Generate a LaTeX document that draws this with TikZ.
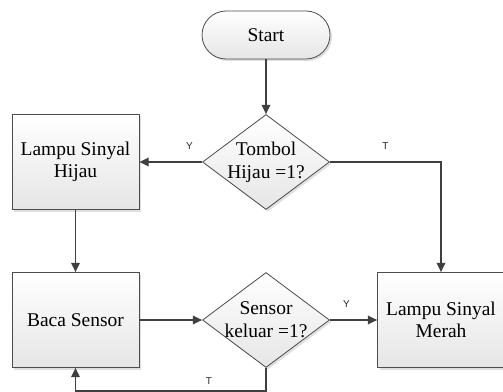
\documentclass[tikz,border=0pt]{standalone}
\usepackage{fontspec}
\setmainfont{Liberation Serif}
\newfontfamily\lblfont{Liberation Sans}
\usetikzlibrary{arrows.meta,shapes.geometric,shadows}

\tikzset{
  base/.style={draw=black!70, line width=0.6pt, top color=white, bottom color=black!10,
    drop shadow={shadow xshift=1.5pt, shadow yshift=-1.5pt, opacity=0.25},
    inner sep=0pt},
  box/.style={base, rectangle, minimum width=95.25pt, minimum height=71.25pt,
    font=\fontsize{14.6}{16.5}\selectfont, align=center},
  terminal/.style={base, rectangle, rounded corners=18pt, minimum width=96pt, minimum height=36pt,
    font=\fontsize{14.6}{16.5}\selectfont},
  decision/.style={base, diamond, minimum width=95.25pt, minimum height=71.25pt},
  dectext/.style={font=\fontsize{14.6}{17.5}\selectfont, align=center, inner sep=0pt},
  arr/.style={draw=black!75, line width=1pt, -{Triangle[length=7pt,width=6.5pt]}},
  lbl/.style={font=\lblfont\fontsize{7.5}{9}\selectfont, text=black!85, inner sep=1pt},
}

\begin{document}
\begin{tikzpicture}[x=0.75pt,y=-0.75pt]
	\useasboundingbox (0,0) rectangle (503,392);
	
	% blocks
	\node[terminal] (start) at (266,35) {Start};
	\node[decision] (tombol) at (266,162) {};
	\node[dectext] (tombolTxt) at (tombol) {Tombol\\Hijau =1?};
	\node[box] (hijau) at (75.5,162) {Lampu Sinyal\\Hijau};
	\node[box] (baca) at (75.5,320) {Baca Sensor};
	\node[decision] (sensor) at (266,320) {};
	\node[dectext] (sensorTxt) at (sensor) {Sensor\\keluar =1?};
	\node[box] (merah) at (441,320) {Lampu Sinyal\\Merah};
	
	% flow
	\draw[arr] (start) -- (tombol);
	\draw[arr] (tombol.west) -- (hijau.east) node[lbl, pos=0.2, above=8pt] {Y};
	\draw[arr] (tombol.east) -| (merah.north) node[lbl, pos=0.25, above=8pt] {T};
	\draw[arr] (hijau) -- (baca);
	\draw[arr] (baca) -- (sensor);
	\draw[arr] (sensor.east) -- (merah.west) node[lbl, pos=0.35, above=8pt] {Y};
	\draw[arr] (sensor.south) -- ++(0,23) -| (baca.south) node[lbl, pos=0.15, above=3pt] {T};
\end{tikzpicture}
\end{document}
